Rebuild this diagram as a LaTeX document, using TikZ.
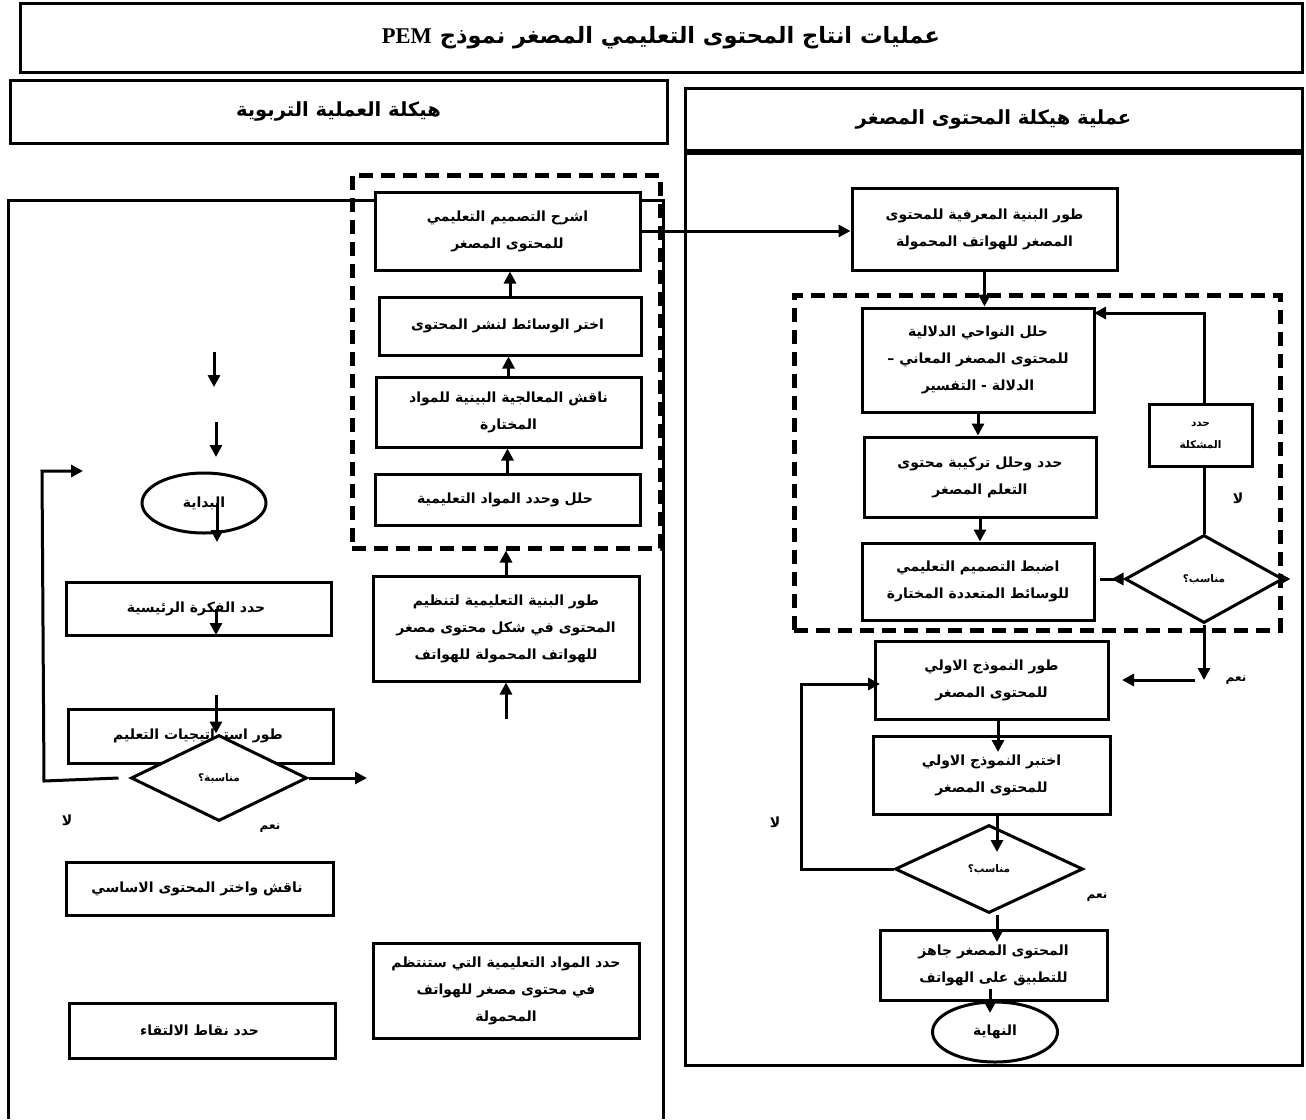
\documentclass[tikz,border=0pt]{standalone}
\usepackage{fontspec}
\setmainfont{Liberation Serif}
\newfontfamily\arabicfont[Script=Arabic]{DejaVu Sans}
\TeXXeTstate=1
\usetikzlibrary{arrows.meta, positioning, shapes.geometric}

\newcommand{\artxt}[1]{\beginR #1\endR}

\begin{document}
\begin{tikzpicture}[
    x=1pt, y=-1pt,
    header/.style = {draw=black, rectangle, line width=3pt, font=\arabicfont\bfseries\fontsize{19.5}{22}\selectfont},
    process/.style = {draw=black, rectangle, fill=white, line width=3pt, align=center, inner sep=2pt, font=\arabicfont\bfseries\fontsize{14}{27}\selectfont},
    leftBox/.style = {process, minimum width=265pt},
    rightBox/.style = {process, minimum width=232pt},
    decision/.style = {draw=black, diamond, fill=white, line width=3pt, inner sep=0pt, font=\arabicfont\bfseries\fontsize{10.5}{12}\selectfont},
    terminal/.style = {draw=black, ellipse, fill=white, line width=3pt, minimum width=124pt, minimum height=60pt, font=\arabicfont\bfseries\fontsize{14}{16}\selectfont},
    group/.style = {draw=black, rectangle, line width=5pt, dash pattern=on 14pt off 8pt},
    answer/.style = {font=\arabicfont\bfseries\fontsize{14}{16}\selectfont},
    flow/.style = {line width=3pt, -{Triangle[length=12pt, width=12pt]}},
    link/.style = {line width=3pt}
]
\useasboundingbox (0,0) rectangle (1306,1119);

\node(Title)[header, minimum width=1282pt, minimum height=69pt, font=\arabicfont\bfseries\fontsize{22.5}{26}\selectfont] at (661,37.5) {
    \artxt{عمليات انتاج المحتوى التعليمي المصغر نموذج \beginL{\rmfamily\bfseries PEM}\endL}
};

\node(LeftHead)[header, minimum width=657pt, minimum height=63pt] at (338.5,111.5) {
    \artxt{هيكلة العملية التربوية}
};

\node(RightHead)[header, minimum width=617pt, minimum height=62pt] at (993.5,119) {
    \artxt{عملية هيكلة المحتوى المصغر}
};

\draw[link] (685,150) rectangle (1302,1065);
\draw[line width=6pt] (685,152) -- (1302,152);
\draw[link] (8,1119) -- (8,200) -- (663,200) -- (663,1119);

\node(LeftGroup)[group, minimum width=308pt, minimum height=373pt] at (506,361.5) {};
\node(RightGroup)[group, minimum width=486pt, minimum height=335pt] at (1037,462.5) {};

\node(Explain)[leftBox, minimum height=78pt] at (507.5,231) {
    \artxt{اشرح التصميم التعليمي}\\ \artxt{للمحتوى المصغر}
};

\node(Media)[leftBox, minimum width=262pt, minimum height=58pt] at (510,326) {
    \artxt{اختر الوسائط لنشر المحتوى}
};
\draw[flow] (Media.north) -- (Media.north |- Explain.south);

\node(Discuss)[leftBox, minimum height=70pt] at (508.5,412) {
    \artxt{ناقش المعالجية البينية للمواد}\\ \artxt{المختارة}
};
\draw[flow] (Discuss.north) -- (Discuss.north |- Media.south);

\node(Analyze)[leftBox, minimum height=51pt] at (507.5,499.5) {
    \artxt{حلل وحدد المواد التعليمية}
};
\draw[flow] (Analyze.north) -- (Analyze.north |- Discuss.south);

\node(Build)[leftBox, minimum width=266pt, minimum height=105pt] at (506,628.5) {
    \artxt{طور البنية التعليمية لتنظيم}\\ \artxt{المحتوى في شكل محتوى مصغر}\\ \artxt{للهواتف المحمولة للهواتف}
};
\draw[flow] (Build.north) -- (Build.north |- LeftGroup.south);

\coordinate (BuildIn) at (506,719);
\draw[flow] (BuildIn) -- (BuildIn |- Build.south);

\node(Materials)[leftBox, minimum width=266pt, minimum height=95pt] at (506,990.5) {
    \artxt{حدد المواد التعليمية التي ستنتظم}\\ \artxt{في محتوى مصغر للهواتف}\\ \artxt{المحمولة}
};

\coordinate (DownA) at (214,352);
\coordinate (DownB) at (216,422);
\draw[flow] (DownA) -- ++(0,35);
\draw[flow] (DownB) -- ++(0,35);

\node(Start)[terminal] at (204,503) {\artxt{البداية}};
\coordinate (StartOut) at (217,542);
\draw[flow] (Start.center -| StartOut) -- (StartOut);

\node(Idea)[leftBox, minimum height=53pt] at (198.5,608.5) {
    \artxt{حدد الفكرة الرئيسية}
};
\coordinate (IdeaOut) at (216,635);
\draw[flow] (IdeaOut |- Idea.center) -- (IdeaOut);

\node(Strategy)[leftBox, minimum height=54pt] at (200.5,736) {
    \artxt{طور استراتيجيات التعليم}
};

\node(Suit)[decision, minimum width=176pt, minimum height=86pt] at (219,778) {\artxt{مناسبة؟}};
\coordinate (StrategyIn) at (216,695);
\draw[flow] (StrategyIn) -- (StrategyIn |- Suit.north);

\coordinate (SuitOut) at (367,778);
\draw[flow] (Suit.east) -- (SuitOut);

\coordinate (LoopBottom) at (44,781);
\coordinate (LoopCorner) at (42,471);
\coordinate (LoopTop) at (83,471);
\draw[flow] (Suit.west) ++(-11,0) -- (LoopBottom) -- (LoopCorner) -- (LoopTop);

\node(SuitNo)[answer] at (67,820) {\artxt{لا}};
\node(SuitYes)[answer, font=\arabicfont\bfseries\fontsize{12}{14}\selectfont] at (270,828) {\artxt{نعم}};

\node(Core)[leftBox, minimum width=267pt, minimum height=53pt] at (199.5,888.5) {
    \artxt{ناقش واختر المحتوى الاساسي}
};

\node(Meet)[leftBox, minimum width=266pt, minimum height=55pt] at (202,1030.5) {
    \artxt{حدد نقاط الالتقاء}
};

\node(Cognitive)[rightBox, minimum width=265pt, minimum height=82pt] at (984.5,229) {
    \artxt{طور البنية المعرفية للمحتوى}\\ \artxt{المصغر للهواتف المحمولة}
};
\draw[flow] (Explain.east) -- (Explain.east -| Cognitive.west);

\node(Semantic)[rightBox, minimum height=104pt] at (978,360) {
    \artxt{حلل النواحي الدلالية}\\ \artxt{للمحتوى المصغر المعاني –}\\ \artxt{الدلالة - التفسير}
};
\draw[flow] (Cognitive.south) -- (Cognitive.south |- Semantic.north);

\node(Structure)[rightBox, minimum height=80pt] at (980,477) {
    \artxt{حدد وحلل تركيبة محتوى}\\ \artxt{التعلم المصغر}
};
\draw[flow] (Semantic.south) -- (Semantic.south |- Structure.north);

\node(Adjust)[rightBox, minimum height=77pt] at (978,581.5) {
    \artxt{اضبط التصميم التعليمي}\\ \artxt{للوسائط المتعددة المختارة}
};
\draw[flow] (Structure.south) -- (Structure.south |- Adjust.north);

\node(Problem)[process, minimum width=103pt, minimum height=62pt, font=\arabicfont\bfseries\fontsize{10.5}{22}\selectfont] at (1200.5,435) {
    \artxt{حدد}\\ \artxt{المشكلة}
};

\node(FitA)[decision, minimum width=158pt, minimum height=88pt] at (1204,579) {\artxt{مناسب؟}};
\draw[link] (FitA.north) -- (FitA.north |- Problem.south);

\coordinate (Retry) at (1094,313);
\draw[flow] (Problem.north -| FitA) |- (Retry);

\coordinate (AdjustIn) at (1100,579);
\draw[link, {Triangle[length=12pt, width=12pt, reversed]}-] (FitA.west) -- (AdjustIn);
\draw[flow] (FitA.east) -- ++(6,0);

\node(FitANo)[answer] at (1238,498) {\artxt{لا}};

\coordinate (YesDrop) at (1204,680);
\draw[flow] (FitA.south) -- (YesDrop);

\node(FitAYes)[answer, font=\arabicfont\bfseries\fontsize{12}{14}\selectfont] at (1236,680) {\artxt{نعم}};

\node(Prototype)[rightBox, minimum width=233pt, minimum height=78pt] at (991.5,680) {
    \artxt{طور النموذج الاولي}\\ \artxt{للمحتوى المصغر}
};
\coordinate (YesFrom) at (1195,680);
\draw[flow] (YesFrom) -- (Prototype.east -| 1122,0);

\node(Test)[rightBox, minimum width=237pt, minimum height=78pt] at (991.5,775) {
    \artxt{اختبر النموذج الاولي}\\ \artxt{للمحتوى المصغر}
};
\coordinate (TestIn) at (998,752);
\draw[flow] (Prototype.south -| TestIn) -- (TestIn);

\node(FitB)[decision, minimum width=188pt, minimum height=88pt] at (989,869) {\artxt{مناسب؟}};
\coordinate (FitBIn) at (997,852);
\draw[flow] (Test.south -| FitBIn) -- (FitBIn);

\coordinate (ProtoLoop) at (801,684);
\coordinate (ProtoIn) at (880,684);
\draw[flow] (FitB.west) -| (ProtoLoop) -- (ProtoIn);

\node(FitBNo)[answer] at (775,822) {\artxt{لا}};
\node(FitBYes)[answer, font=\arabicfont\bfseries\fontsize{12}{14}\selectfont] at (1097,897) {\artxt{نعم}};

\node(Ready)[rightBox, minimum width=227pt, minimum height=70pt] at (993.5,965) {
    \artxt{المحتوى المصغر جاهز}\\ \artxt{للتطبيق على الهواتف}
};
\coordinate (ReadyIn) at (997,942);
\draw[flow] (FitB.south -| ReadyIn) -- (ReadyIn);

\node(End)[terminal, minimum width=125pt] at (995,1032) {\artxt{النهاية}};
\coordinate (EndIn) at (990,1013);
\draw[flow] ([yshift=13pt]Ready.south -| EndIn) -- (EndIn);

\end{tikzpicture}
\end{document}
